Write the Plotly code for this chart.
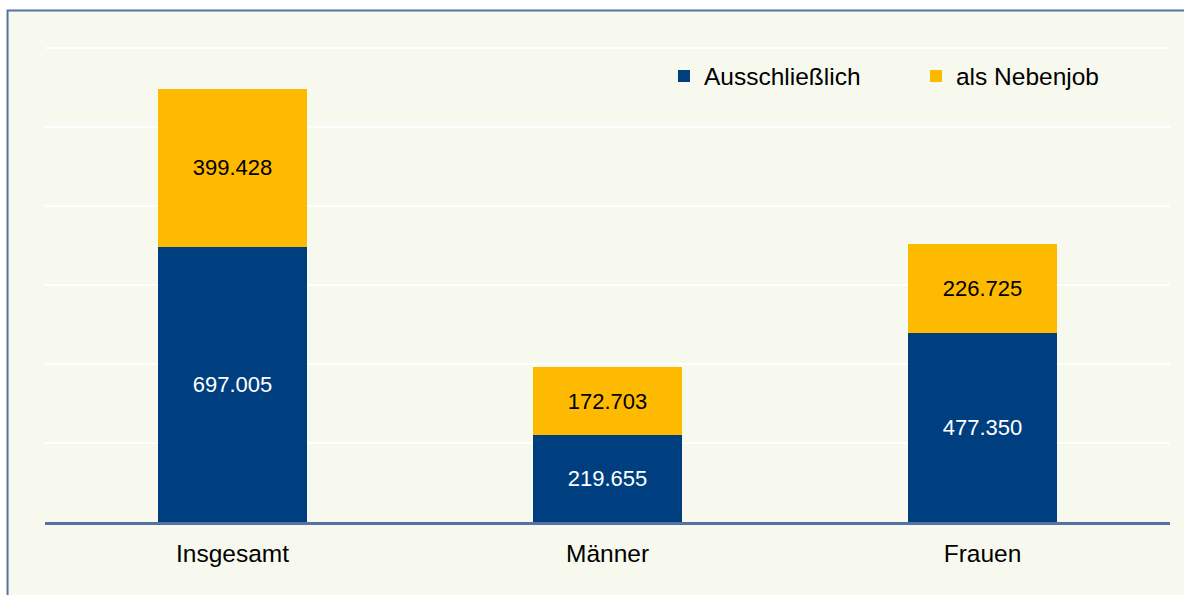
import plotly.graph_objects as go

kategorien = ["Insgesamt", "Männer", "Frauen"]
ausschliesslich = [697005, 219655, 477350]
nebenjob = [399428, 172703, 226725]


def fmt(v):
    # deutsche Tausendertrennung
    return f"{v:,}".replace(",", ".")


bg = "#F8F9EE"
blau = "#003F7F"
gelb = "#FDBA00"
rand = "#5572A3"

fig = go.Figure()
fig.add_trace(
    go.Bar(
        x=kategorien,
        y=ausschliesslich,
        name="Ausschließlich",
        marker=dict(color=blau, line=dict(width=0)),
        text=[fmt(v) for v in ausschliesslich],
        textposition="inside",
        insidetextanchor="middle",
        textfont=dict(color="white", size=22),
        hoverinfo="skip",
    )
)
fig.add_trace(
    go.Bar(
        x=kategorien,
        y=nebenjob,
        name="als Nebenjob",
        marker=dict(color=gelb, line=dict(width=0)),
        text=[fmt(v) for v in nebenjob],
        textposition="inside",
        insidetextanchor="middle",
        textfont=dict(color="black", size=22),
        hoverinfo="skip",
    )
)

# Rahmen um die Grafik
fig.add_shape(
    type="rect",
    xref="paper",
    yref="paper",
    x0=-0.0333,
    x1=1.2,
    y0=-0.3,
    y1=1.0746,
    line=dict(color=rand, width=2),
    fillcolor=bg,
    layer="below",
)

fig.update_layout(
    width=1184,
    height=595,
    barmode="stack",
    bargap=0.603,
    paper_bgcolor="white",
    plot_bgcolor="rgba(0,0,0,0)",
    margin=dict(l=45, r=14, t=46, b=73, autoexpand=False),
    font=dict(family="Liberation Sans, Arial, sans-serif", size=24.5, color="black"),
    uniformtext=dict(minsize=22, mode="show"),
    legend=dict(
        orientation="h",
        x=0.5502,
        y=0.937,
        xanchor="left",
        yanchor="middle",
        bgcolor="rgba(0,0,0,0)",
        font=dict(size=24.5),
        itemwidth=30,
        traceorder="normal",
        entrywidth=207,
    ),
    xaxis=dict(
        showline=True,
        linecolor=rand,
        linewidth=3,
        ticks="outside",
        ticklen=8,
        tickcolor="rgba(0,0,0,0)",
        tickfont=dict(size=24.5),
    ),
    yaxis=dict(
        range=[0, 1205063],
        tick0=0,
        dtick=200000,
        showgrid=True,
        gridcolor="white",
        gridwidth=2,
        showticklabels=False,
        zeroline=False,
    ),
)

fig.write_html(
    "out.html",
    config={"displayModeBar": False},
    post_script="document.body.style.margin='0';",
)
